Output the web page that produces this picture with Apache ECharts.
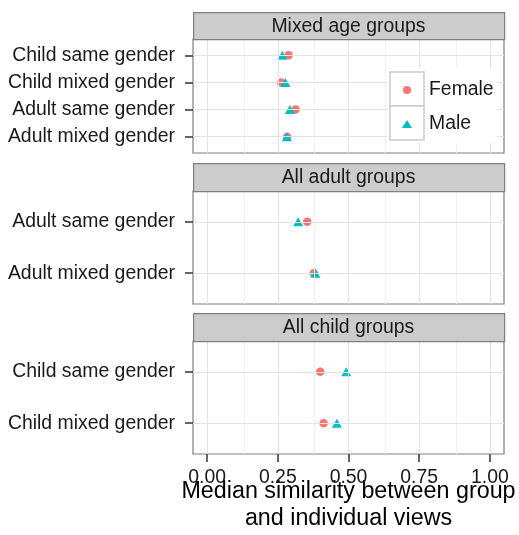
<!DOCTYPE html>
<html>
<head>
<meta charset="utf-8">
<script src="https://cdn.jsdelivr.net/npm/echarts@6/dist/echarts.min.js"></script>
<style>
html,body{margin:0;padding:0;background:#fff;}
#chart{width:519px;height:535px;}
</style>
</head>
<body>
<div id="chart"></div>
<script>
// ---- data ----
const panelTitles = ['Mixed age groups', 'All adult groups', 'All child groups'];
const catsMixed = ['Child same gender', 'Child mixed gender', 'Adult same gender', 'Adult mixed gender'];
const femaleMixed = [0.288, 0.262, 0.313, 0.283];
const maleMixed = [0.266, 0.277, 0.293, 0.282];
const catsAdult = ['Adult same gender', 'Adult mixed gender'];
const femaleAdult = [0.354, 0.377];
const maleAdult = [0.322, 0.383];
const catsChild = ['Child same gender', 'Child mixed gender'];
const femaleChild = [0.400, 0.412];
const maleChild = [0.492, 0.459];
const xTicks = [0, 0.25, 0.5, 0.75, 1];
const xMinorTicks = [0.125, 0.375, 0.625, 0.875];
const xTitle = 'Median similarity between group\nand individual views';

// ---- layout ----
const FONT = 'Liberation Sans, Arial, sans-serif';
const FS = 19.4;
const PL = 193, PW = 311;
const panels = [
  { top: 39, height: 114, stripTop: 12, cats: catsMixed, f: femaleMixed, m: maleMixed },
  { top: 191, height: 113, stripTop: 163, cats: catsAdult, f: femaleAdult, m: maleAdult },
  { top: 341, height: 113, stripTop: 313, cats: catsChild, f: femaleChild, m: maleChild }
];
const FEMALE = '#F8766D', MALE = '#00BFC4';

const grids = [], xAxes = [], yAxes = [], series = [], graphics = [];
panels.forEach((p, i) => {
  const n = p.cats.length;
  const rows = p.cats.map((c, k) => k + 1);
  grids.push({ left: PL, top: p.top, width: PW, height: p.height, show: true,
    backgroundColor: '#fff', borderColor: '#7f7f7f', borderWidth: 1.2,
    containLabel: false, outerBoundsMode: 'none' });
  const last = i === panels.length - 1;
  xAxes.push({
    type: 'value', gridIndex: i, min: -0.05, max: 1.05, position: 'bottom',
    splitLine: { show: false }, axisLine: { show: false, onZero: false },
    axisTick: { show: last, customValues: xTicks, length: 8, lineStyle: { color: '#333', width: 1.5 } },
    axisLabel: { show: last, customValues: xTicks, formatter: v => v.toFixed(2),
      fontFamily: FONT, fontSize: FS, color: '#1a1a1a', margin: 14.5 },
    name: last ? xTitle : '', nameLocation: 'middle', nameGap: 24, nameMoveOverlap: false,
    nameTextStyle: { fontFamily: FONT, fontSize: 23.3, lineHeight: 27, color: '#000' }
  });
  yAxes.push({
    type: 'value', gridIndex: i, min: 0.4, max: n + 0.6, inverse: true, position: 'left',
    splitLine: { show: false }, axisLine: { show: false, onZero: false },
    axisTick: { show: true, customValues: rows, length: 8, lineStyle: { color: '#333', width: 1.5 } },
    axisLabel: { show: true, customValues: rows, formatter: v => p.cats[Math.round(v) - 1] || '',
      fontFamily: FONT, fontSize: FS, color: '#1a1a1a', margin: 18 }
  });
  // grid lines via markLine on a helper series
  const ml = [];
  xMinorTicks.forEach(v => ml.push({ xAxis: v, lineStyle: { color: '#F2F2F2', width: 1 } }));
  xTicks.forEach(v => ml.push({ xAxis: v, lineStyle: { color: '#E3E3E3', width: 1 } }));
  rows.forEach(v => ml.push({ yAxis: v, lineStyle: { color: '#E3E3E3', width: 1 } }));
  series.push({
    type: 'scatter', name: 'grid' + i, xAxisIndex: i, yAxisIndex: i, data: [], z: 1, silent: true,
    markLine: { silent: true, symbol: ['none', 'none'], label: { show: false }, animation: false,
      lineStyle: { type: 'solid' }, emphasis: { disabled: true }, data: ml }
  });
  series.push({
    type: 'scatter', name: 'Female', xAxisIndex: i, yAxisIndex: i, z: 3,
    symbol: 'circle', symbolSize: 8.5, itemStyle: { color: FEMALE, opacity: 1 },
    data: p.f.map((v, k) => [v, k + 1])
  });
  series.push({
    type: 'scatter', name: 'Male', xAxisIndex: i, yAxisIndex: i, z: 4,
    symbol: 'triangle', symbolSize: [10, 9], itemStyle: { color: MALE, opacity: 1 },
    data: p.m.map((v, k) => [v, k + 1])
  });
  // strip
  graphics.push({ type: 'rect', left: PL, top: p.stripTop, z: 10,
    shape: { x: 0, y: 0, width: PW, height: p.top - p.stripTop },
    style: { fill: '#CCCCCC', stroke: '#7f7f7f', lineWidth: 1.2 } });
  graphics.push({ type: 'text', x: PL + PW / 2, y: (p.stripTop + p.top) / 2 + 1, z: 11,
    style: { text: panelTitles[i], fontFamily: FONT, fontSize: FS, fill: '#1a1a1a',
      align: 'center', verticalAlign: 'middle' } });
});

// legend background and key boxes
graphics.push({ type: 'rect', z: 20, shape: { x: 388, y: 68, width: 109, height: 75 },
  style: { fill: '#fff', stroke: null } });
graphics.push({ type: 'rect', z: 21, shape: { x: 390, y: 72, width: 34, height: 34 },
  style: { fill: '#fff', stroke: '#CCCCCC', lineWidth: 1.5 } });
graphics.push({ type: 'rect', z: 21, shape: { x: 390, y: 106, width: 34, height: 34 },
  style: { fill: '#fff', stroke: '#CCCCCC', lineWidth: 1.5 } });

const chart = echarts.init(document.getElementById('chart'), null, { renderer: 'canvas' });
chart.setOption({
  animation: false,
  backgroundColor: '#fff',
  textStyle: { fontFamily: FONT },
  grid: grids,
  xAxis: xAxes,
  yAxis: yAxes,
  legend: {
    data: ['Female', 'Male'], orient: 'vertical', left: 402, top: 80, z: 30, padding: 0,
    itemWidth: 10, itemHeight: 8, itemGap: 14, selectedMode: false,
    textStyle: { fontFamily: FONT, fontSize: FS, color: '#1a1a1a', lineHeight: 20, padding: [0, 0, 0, 12] }
  },
  graphic: { elements: graphics },
  series: series
});
</script>
</body>
</html>
